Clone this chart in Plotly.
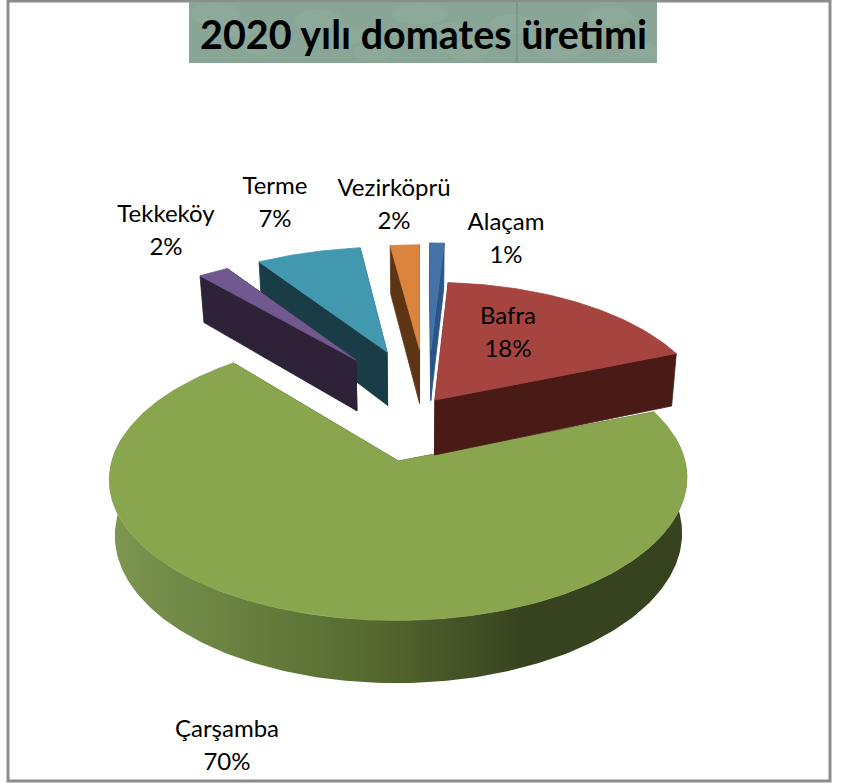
import math
import plotly.graph_objects as go

labels = ["Alaçam", "Bafra", "Çarşamba", "Tekkeköy", "Terme", "Vezirköprü"]
values = [1, 18, 70, 2, 7, 2]

# styles / geometry of the 3D projection (pixel-like axis units)
top_colors = ["#4572a7", "#a6443f", "#89a54e", "#71588f", "#4198af", "#db843d"]
side_colors = ["#2c5485", "#4a1a17", "#37421f", "#2d2238", "#1a3c47", "#5d3514"]
pull_x = [0.05, 0.062, -0.068, -0.237, -0.119, 0.006]
pull_y = [0.60, 0.172, -0.29, 0.506, 0.575, 0.60]
scale_x = [1.0, 1.0, 0.995, 1.05, 1.03, 1.0]
scale_y = [1.05, 1.06, 1.0, 1.03, 1.03, 1.03]
depths = [55, 56, 53, 54, 57, 58]
label_x = [506, 508, 227, 166, 275, 394]
label_y = [224, 318, 731, 216, 188, 190]
draw_order = [0, 5, 4, 3, 2, 1]
blotch_x = [215, 262, 318, 372, 420, 468, 512, 560, 610, 640, 240, 350, 450, 590]
blotch_y = [14, 46, 20, 52, 12, 50, 24, 48, 16, 50, 30, 36, 30, 34]
blotch_r = [16, 13, 15, 12, 18, 14, 14, 16, 14, 12, 10, 12, 11, 12]
CX, CY, RX, RY, K, SHRINK = 418, 422, 278, 130, 0.12, 0.982
LINE_GAP = 33


def project(x, y, depth=0):
    w = 1 + K * y
    sx = RX * x / w
    sy = CY - RY * y / w
    if depth:
        sx *= SHRINK
        sy += depth / w
    return CX + sx, sy


def polar(a, i):
    r = math.radians(a)
    return math.sin(r) * scale_x[i], math.cos(r) * scale_y[i]


def arc(a0, a1, ox, oy, i, depth=0):
    n = max(2, int(abs(a1 - a0)) + 2)
    pts = []
    for k in range(n):
        a = a0 + (a1 - a0) * k / (n - 1)
        px, py = polar(a, i)
        pts.append(project(ox + px, oy + py, depth))
    return pts


def poly(pts, color=None, gradient=None):
    xs = [p[0] for p in pts] + [pts[0][0]]
    ys = [p[1] for p in pts] + [pts[0][1]]
    if gradient:
        kw = dict(fillgradient=gradient, line=dict(width=0))
    else:
        kw = dict(fillcolor=color, line=dict(width=0.8, color=color))
    return go.Scatter(x=xs, y=ys, mode="lines", fill="toself",
                      hoverinfo="skip", showlegend=False, **kw)


total = sum(values)
starts = []
acc = 0
for v in values:
    starts.append(acc / total * 360)
    acc += v

fig = go.Figure()
for i in draw_order:
    a0 = starts[i]
    a1 = a0 + values[i] / total * 360
    ox, oy = pull_x[i], pull_y[i]
    d = depths[i]
    apex_t = project(ox, oy)
    apex_b = project(ox, oy, d)
    side = side_colors[i]
    for a in (a0, a1):
        px, py = polar(a, i)
        fig.add_trace(poly([apex_t, project(ox + px, oy + py), project(ox + px, oy + py, d), apex_b], side))
    lo, hi = max(a0, 80), min(a1, 280)
    if hi > lo:
        wall = arc(lo, hi, ox, oy, i) + arc(hi, lo, ox, oy, i, d)
        grad = dict(type="horizontal", colorscale=[[0, "#7d9650"], [0.45, "#566a30"], [0.72, "#37421f"], [1, "#37421f"]])
        fig.add_trace(poly(wall, gradient=grad))
    fig.add_trace(poly([apex_t] + arc(a0, a1, ox, oy, i), top_colors[i]))

text_x, text_y, texts = [], [], []
for i, name in enumerate(labels):
    text_x += [label_x[i], label_x[i]]
    text_y += [label_y[i], label_y[i] + LINE_GAP]
    texts += [name, f"{round(values[i] / total * 100)}%"]
fig.add_trace(go.Scatter(x=text_x, y=text_y, text=texts, mode="text", hoverinfo="skip", showlegend=False,
                         textfont=dict(family="Lato", size=24, color="#000000")))

shapes = [
    dict(type="rect", x0=8, x1=830, y0=1, y1=781, line=dict(color="#8c8c8c", width=3), fillcolor="rgba(0,0,0,0)", layer="below"),
    dict(type="rect", x0=189, x1=657, y0=2, y1=63, line=dict(width=0), fillcolor="#88a596", layer="below"),
]
for bx, by, br in zip(blotch_x, blotch_y, blotch_r):
    shapes.append(dict(type="circle", x0=bx - br * 1.6, x1=bx + br * 1.6, y0=max(by - br * 0.7, 3), y1=min(by + br * 0.7, 62),
                       line=dict(width=0), fillcolor="rgba(175,205,190,0.11)", layer="below"))
shapes.append(dict(type="line", x0=517, x1=517, y0=2, y1=63, line=dict(color="#6c8a78", width=1), layer="below"))

fig.update_layout(
    width=846, height=784, margin=dict(l=0, r=0, t=0, b=0),
    paper_bgcolor="white", plot_bgcolor="white",
    xaxis=dict(range=[0, 846], visible=False, fixedrange=True),
    yaxis=dict(range=[784, 0], visible=False, fixedrange=True),
    shapes=shapes,
    annotations=[dict(x=423, y=33, xref="x", yref="y", text="<b>2020 yılı domates üretimi</b>", showarrow=False,
                      font=dict(family="Lato", size=39.5, color="#000000"))],
)
fig.write_html("out.html", config={"displayModeBar": False},
               post_script="document.body.style.margin='0';document.body.style.overflow='hidden';")
